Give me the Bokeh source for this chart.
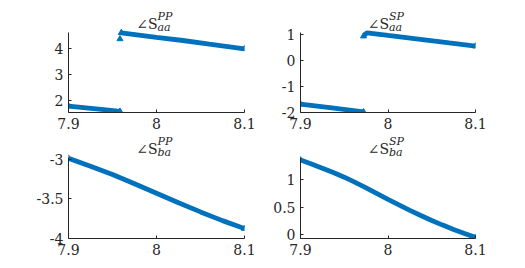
from bokeh.plotting import figure
from bokeh.models import FixedTicker, Range1d, Label
from bokeh.layouts import gridplot
from bokeh.embed import file_html
from bokeh.resources import INLINE

# ---- data ----
x_ticks = [7.9, 8.0, 8.1]
x_tick_labels = ["7.9", "8", "8.1"]

# angle S_aa^PP
aa_pp_lo_x = [7.9, 7.92, 7.94, 7.9585]
aa_pp_lo_y = [1.77, 1.70, 1.63, 1.56]
aa_pp_pt_x = [7.9585]
aa_pp_pt_y = [4.37]
aa_pp_hi_x = [7.960, 7.98, 8.0, 8.03, 8.06, 8.1]
aa_pp_hi_y = [4.61, 4.52, 4.43, 4.31, 4.17, 3.99]
aa_pp_yticks = [2, 3, 4]
aa_pp_ylim = [1.52, 4.62]

# angle S_aa^SP
aa_sp_lo_x = [7.9, 7.936, 7.972]
aa_sp_lo_y = [-1.68, -1.82, -1.98]
aa_sp_hi_x = [7.972, 7.976, 8.0, 8.037, 8.07, 8.1]
aa_sp_hi_y = [0.93, 1.06, 0.96, 0.81, 0.67, 0.55]
aa_sp_yticks = [-2, -1, 0, 1]
aa_sp_ylim = [-2.0, 1.07]

# angle S_ba^PP
ba_pp_x = [7.9, 7.925, 7.95, 7.975, 8.0, 8.025, 8.05, 8.075, 8.1]
ba_pp_y = [-2.99, -3.09, -3.195, -3.31, -3.43, -3.55, -3.665, -3.775, -3.875]
ba_pp_yticks = [-4, -3.5, -3]
ba_pp_ylim = [-4.0, -2.98]

# angle S_ba^SP
ba_sp_x = [7.9, 7.9125, 7.925, 7.9375, 7.95, 7.9625, 7.975, 7.9875, 8.0,
           8.0125, 8.025, 8.0375, 8.05, 8.0625, 8.075, 8.0875, 8.1]
ba_sp_y = [1.365, 1.29, 1.215, 1.135, 1.05, 0.955, 0.855, 0.75, 0.645,
           0.545, 0.445, 0.35, 0.26, 0.175, 0.095, 0.02, -0.05]
ba_sp_yticks = [0, 0.5, 1]
ba_sp_ylim = [-0.07, 1.41]

BLUE = "#0072BD"
AX = "#262626"
FONT = "DejaVu Serif"


def make_fig(ylim, yticks, bl, br, bt, bb, fw, fh, title_px):
    ybot, ytop = ylim
    ext = (ytop - ybot) * title_px / fh
    p = figure(frame_width=fw, frame_height=fh + title_px, output_backend="svg",
               toolbar_location=None, x_range=Range1d(7.9, 8.1),
               y_range=Range1d(ybot, ytop + ext), min_border_left=bl,
               min_border_right=br, min_border_top=bt, min_border_bottom=bb)
    p.outline_line_color = None
    p.xgrid.visible = False
    p.ygrid.visible = False
    p.background_fill_color = "white"
    p.border_fill_color = "white"
    p.xaxis.ticker = FixedTicker(ticks=x_ticks)
    p.xaxis.major_label_overrides = {t: l for t, l in zip(x_ticks, x_tick_labels)}
    p.yaxis.ticker = FixedTicker(ticks=yticks)
    p.yaxis.major_label_overrides = {t: (str(t) if t != int(t) else str(int(t))) for t in yticks}
    p.yaxis.bounds = (ybot, ytop)
    for ax in (p.xaxis[0], p.yaxis[0]):
        ax.axis_line_color = AX
        ax.major_tick_line_color = AX
        ax.major_tick_in = 3
        ax.major_tick_out = 0
        ax.minor_tick_line_color = None
        ax.major_label_text_font = FONT
        ax.major_label_text_font_size = "14px"
        ax.major_label_text_color = AX
        ax.major_label_standoff = 5
    return p


def add_title(p, ytop, sup, sub):
    p.add_layout(Label(x=8.0, y=ytop, x_offset=1, y_offset=9, text="∠S",
                       text_align="right", text_baseline="alphabetic",
                       text_font=FONT, text_font_size="14px", text_color=AX))
    p.add_layout(Label(x=8.0, y=ytop, x_offset=1, y_offset=16, text=sup,
                       text_align="left", text_baseline="alphabetic",
                       text_font=FONT, text_font_style="italic",
                       text_font_size="11px", text_color=AX))
    p.add_layout(Label(x=8.0, y=ytop, x_offset=1, y_offset=5, text=sub,
                       text_align="left", text_baseline="alphabetic",
                       text_font=FONT, text_font_style="italic",
                       text_font_size="11px", text_color=AX))


def draw(p, xs, ys):
    p.line(xs, ys, line_color=BLUE, line_width=4.8)
    p.scatter([xs[0], xs[-1]], [ys[0], ys[-1]], marker="triangle", size=6,
              fill_color=BLUE, line_color=BLUE)


p1 = make_fig(aa_pp_ylim, aa_pp_yticks, 68, 18, 8, 22, 176, 80, 24)
draw(p1, aa_pp_lo_x, aa_pp_lo_y)
draw(p1, aa_pp_hi_x, aa_pp_hi_y)
p1.scatter(aa_pp_pt_x, aa_pp_pt_y, marker="triangle", size=6, fill_color=BLUE, line_color=BLUE)
add_title(p1, aa_pp_ylim[1], "PP", "aa")

p2 = make_fig(aa_sp_ylim, aa_sp_yticks, 38, 41, 8, 22, 175, 80, 24)
draw(p2, aa_sp_lo_x, aa_sp_lo_y)
draw(p2, aa_sp_hi_x, aa_sp_hi_y)
add_title(p2, aa_sp_ylim[1], "SP", "aa")

p3 = make_fig(ba_pp_ylim, ba_pp_yticks, 68, 18, 0, 22, 176, 81, 23)
draw(p3, ba_pp_x, ba_pp_y)
add_title(p3, ba_pp_ylim[1], "PP", "ba")

p4 = make_fig(ba_sp_ylim, ba_sp_yticks, 38, 41, 0, 22, 175, 81, 23)
draw(p4, ba_sp_x, ba_sp_y)
add_title(p4, ba_sp_ylim[1], "SP", "ba")

grid = gridplot([[p1, p2], [p3, p4]], toolbar_location=None)

open("out.html", "w").write(file_html(grid, INLINE))
